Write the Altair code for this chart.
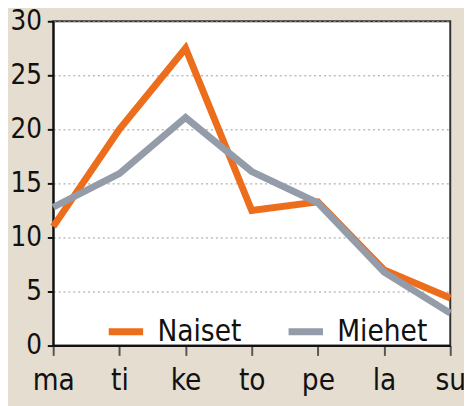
import altair as alt
import pandas as pd

days = ["ma", "ti", "ke", "to", "pe", "la", "su"]
naiset = [11.0, 20.0, 27.5, 12.5, 13.3, 7.0, 4.4]
miehet = [12.8, 15.9, 21.1, 16.1, 13.2, 6.8, 3.0]
series = ["Naiset", "Miehet"]
colors = ["#ec6d1b", "#939ca8"]
y_ticks = [0, 5, 10, 15, 20, 25, 30]

rows = []
for i, d in enumerate(days):
    rows.append({"day": d, "value": naiset[i], "sarja": "Naiset", "ord": 0})
    rows.append({"day": d, "value": miehet[i], "sarja": "Miehet", "ord": 1})
df = pd.DataFrame(rows)

FONT = "DejaVu Sans Condensed"

chart = alt.Chart(df).mark_line(strokeWidth=7, strokeCap="butt", strokeJoin="miter", clip=False).encode(
    x=alt.X("day:N", sort=days, scale=alt.Scale(type="point", padding=0),
            axis=alt.Axis(title=None, labelAngle=0, tickSize=10, tickColor="#555",
                          tickWidth=2, domainColor="#111", domainWidth=2,
                          labelFontSize=30, labelFont=FONT, labelColor="#111",
                          labelPadding=11, grid=False)),
    y=alt.Y("value:Q", scale=alt.Scale(domain=[0, 30], nice=False),
            axis=alt.Axis(title=None, values=y_ticks, tickSize=6, tickColor="#111",
                          tickWidth=2, domainColor="#111", domainWidth=2,
                          labelFontSize=28, labelFont=FONT, labelColor="#111",
                          labelPadding=6, grid=True, gridColor="#999",
                          gridDash=[2, 3], gridWidth=1)),
    color=alt.Color("sarja:N", scale=alt.Scale(domain=series, range=colors),
                    legend=alt.Legend(title=None, orient="none", legendX=53, legendY=295,
                                      direction="horizontal", symbolType="stroke",
                                      symbolSize=1225, symbolStrokeWidth=7,
                                      labelFontSize=30, labelFont=FONT, labelColor="#111",
                                      labelOffset=11, columnPadding=33, padding=0)),
    order=alt.Order("ord:Q"),
).properties(
    width=404, height=330,
    background="#e5ddcf",
    padding={"left": 46, "top": 10, "right": 14, "bottom": 58},
    autosize=alt.AutoSizeParams(type="none"),
).configure_view(stroke="#333", strokeWidth=2, fill="white")

chart.save("out.html", embed_options={"renderer": "svg", "actions": False})
